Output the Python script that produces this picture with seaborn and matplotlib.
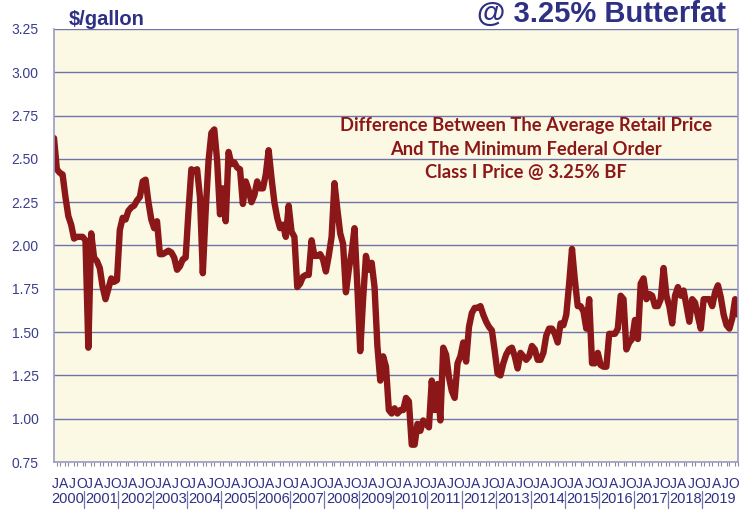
import matplotlib
matplotlib.use("Agg")
import matplotlib.pyplot as plt
from matplotlib.ticker import MultipleLocator, FormatStrFormatter
import seaborn as sns

# monthly price gap, $/gallon, Jan 2000 .. Dec 2019
margin = [
    2.62, 2.44, 2.42, 2.41, 2.28, 2.17, 2.12, 2.04, 2.05, 2.05, 2.05, 2.03,  # 2000
    1.41, 2.07, 1.93, 1.91, 1.87, 1.76, 1.69, 1.75, 1.81, 1.79, 1.80, 2.09,  # 2001
    2.16, 2.15, 2.20, 2.22, 2.23, 2.26, 2.28, 2.37, 2.38, 2.25, 2.15, 2.10,  # 2002
    2.14, 1.95, 1.95, 1.96, 1.97, 1.96, 1.93, 1.86, 1.88, 1.92, 1.93, 2.20,  # 2003
    2.44, 2.43, 2.44, 2.28, 1.84, 2.20, 2.49, 2.65, 2.67, 2.49, 2.18, 2.33,  # 2004
    2.14, 2.54, 2.47, 2.48, 2.45, 2.44, 2.24, 2.37, 2.32, 2.25, 2.29, 2.37,  # 2005
    2.33, 2.33, 2.41, 2.55, 2.39, 2.25, 2.16, 2.10, 2.12, 2.05, 2.23, 2.08,  # 2006
    2.05, 1.76, 1.78, 1.82, 1.83, 1.83, 2.03, 1.94, 1.94, 1.95, 1.92, 1.85,  # 2007
    1.94, 2.05, 2.36, 2.21, 2.07, 2.01, 1.73, 1.86, 1.96, 2.10, 1.76, 1.39,  # 2008
    1.69, 1.94, 1.86, 1.90, 1.76, 1.42, 1.22, 1.36, 1.30, 1.05, 1.03, 1.06,  # 2009
    1.03, 1.05, 1.05, 1.12, 1.10, 0.85, 0.85, 0.97, 0.93, 0.99, 0.97, 0.95,  # 2010
    1.22, 1.05, 1.20, 0.99, 1.41, 1.37, 1.24, 1.16, 1.12, 1.32, 1.36, 1.44,  # 2011
    1.33, 1.53, 1.61, 1.64, 1.64, 1.65, 1.60, 1.56, 1.53, 1.51, 1.39, 1.26,  # 2012
    1.25, 1.32, 1.37, 1.40, 1.41, 1.36, 1.29, 1.38, 1.36, 1.34, 1.36, 1.42,  # 2013
    1.40, 1.34, 1.34, 1.38, 1.48, 1.52, 1.52, 1.49, 1.44, 1.55, 1.54, 1.60,  # 2014
    1.78, 1.98, 1.80, 1.65, 1.65, 1.62, 1.52, 1.69, 1.32, 1.32, 1.38, 1.31,  # 2015
    1.30, 1.30, 1.49, 1.49, 1.49, 1.52, 1.71, 1.69, 1.40, 1.44, 1.46, 1.57,  # 2016
    1.46, 1.78, 1.81, 1.69, 1.72, 1.71, 1.65, 1.65, 1.69, 1.87, 1.71, 1.65,  # 2017
    1.55, 1.71, 1.76, 1.71, 1.74, 1.65, 1.56, 1.69, 1.67, 1.59, 1.52, 1.69,  # 2018
    1.69, 1.69, 1.65, 1.73, 1.77, 1.70, 1.60, 1.54, 1.52, 1.58, 1.69, 1.60,  # 2019
]
months = list(range(len(margin)))
years = [str(y) for y in range(2000, 2020)]
quarter_letters = ["J", "A", "J", "O"]
note_lines = [
    "Difference Between The Average Retail Price",
    "And The Minimum Federal Order",
    "Class I Price @ 3.25% BF",
]

navy = "#2E3083"
red = "#8C1719"

sns.set_style("white")
plt.rcParams["font.family"] = ["Liberation Sans", "DejaVu Sans"]

fig = plt.figure(figsize=(7.56, 5.12), dpi=100)
ax = fig.add_axes([54 / 756, 1 - 462 / 512, 684 / 756, 433 / 512])
ax.set_facecolor("#FBF9E3")

sns.lineplot(x=months, y=margin, ax=ax, color=red, linewidth=4.6,
             solid_joinstyle="round", solid_capstyle="round")

ax.set_xlim(0, len(margin) - 1)
ax.set_ylim(0.75, 3.25)
ax.yaxis.set_major_locator(MultipleLocator(0.25))
ax.yaxis.set_major_formatter(FormatStrFormatter("%.2f"))
ax.grid(axis="y", color="#7074AA", linewidth=1)
ax.set_axisbelow(True)
ax.tick_params(axis="y", length=0, pad=11, labelsize=10, labelcolor="#3A3D8F")

# month ticks below the axis, labels drawn by hand
ax.xaxis.set_major_locator(MultipleLocator(3))
ax.xaxis.set_minor_locator(MultipleLocator(1))
ax.set_xticklabels([])
ax.tick_params(axis="x", which="major", length=5, width=0.8, color="#8A8A9A", direction="out")
ax.tick_params(axis="x", which="minor", length=3, width=0.8, color="#8A8A9A", direction="out", bottom=True)
ax.set_xlabel("")
ax.set_ylabel("")

for side in ["left", "bottom", "right"]:
    ax.spines[side].set_color("#9B9BC8")
    ax.spines[side].set_linewidth(1.2)
ax.spines["top"].set_visible(False)

tr = ax.get_xaxis_transform()
for i, year in enumerate(years):
    for q, letter in enumerate(quarter_letters):
        ax.text(12 * i + 3.05 * q + 0.4, -0.05, letter, transform=tr, ha="center", va="center",
                fontsize=10, color=navy, clip_on=False)
    ax.text(12 * i + 4.7, -0.086, year, transform=tr, ha="center", va="center",
            fontsize=10.5, color=navy, clip_on=False)
    if i < len(years) - 1:
        ax.plot([12 * i + 10.5] * 2, [-0.066, -0.106], transform=tr, color="#7074AA",
                linewidth=0.9, clip_on=False)

fig.text(69 / 756, 1 - 25 / 512, "$/gallon", fontsize=14.5, fontweight="bold", color=navy,
         va="baseline", ha="left")
fig.text(726 / 756, 1 - 22 / 512, "@ 3.25% Butterfat", fontsize=21, fontweight="bold",
         color=navy, va="baseline", ha="right")

for k, line in enumerate(note_lines):
    fig.text(526 / 756, 1 - (126 + 23.5 * k) / 512, line, fontsize=13.2, fontweight="bold",
             color=red, ha="center", va="center", family=["Lato", "DejaVu Sans"])

fig.savefig("out.png", dpi=100)
